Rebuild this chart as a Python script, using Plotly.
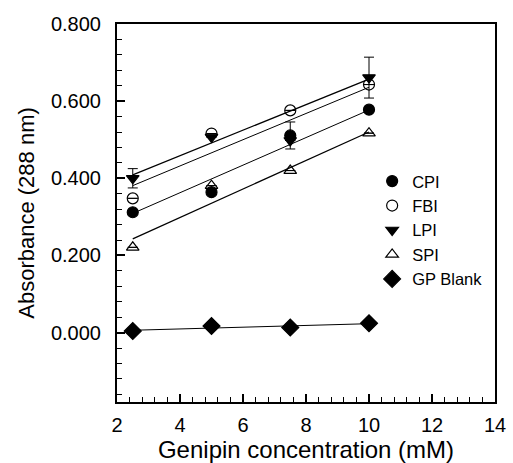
import plotly.graph_objects as go

conc = [2.5, 5, 7.5, 10]
series_names = ["CPI", "FBI", "LPI", "SPI", "GP Blank"]
cpi = [0.312, 0.364, 0.511, 0.578]
fbi = [0.348, 0.516, 0.576, 0.643]
lpi = [0.400, 0.507, 0.498, 0.661]
spi = [0.221, 0.381, 0.420, 0.517]
gp_blank = [0.004, 0.017, 0.013, 0.024]
cpi_err = [0, 0, 0.035, 0]
fbi_err = [0, 0, 0, 0]
lpi_err = [0.025, 0, 0, 0.053]
spi_err = [0, 0, 0, 0]
gp_err = [0, 0, 0, 0]
# regression lines: value at x=2.5 and x=10
fit_x = [2.5, 10]
cpi_fit = [0.309, 0.577]
fbi_fit = [0.381, 0.636]
lpi_fit = [0.409, 0.657]
spi_fit = [0.243, 0.520]
gp_fit = [0.006, 0.023]

values = [cpi, fbi, lpi, spi, gp_blank]
errors = [cpi_err, fbi_err, lpi_err, spi_err, gp_err]
fits = [cpi_fit, fbi_fit, lpi_fit, spi_fit, gp_fit]
symbols = ["circle", "circle-open", "triangle-down", "triangle-up-open", "diamond"]
sizes = [11, 11, 11, 11, 13]
fit_widths = [1.0, 1.0, 1.3, 1.3, 1.0]

fig = go.Figure()
for name, yv, fv, w in zip(series_names, values, fits, fit_widths):
    fig.add_trace(go.Scatter(x=fit_x, y=fv, mode="lines", line=dict(color="black", width=w),
                             showlegend=False, hoverinfo="skip"))
for name, yv, ev, sym, sz in zip(series_names, values, errors, symbols, sizes):
    fig.add_trace(go.Scatter(
        x=conc, y=yv, mode="markers", name=name,
        marker=dict(symbol=sym, size=sz, color="black", line=dict(color="black", width=1.2)),
        error_y=dict(type="data", array=ev, visible=True, color="black", thickness=1, width=5),
    ))

font_family = "Liberation Sans, Arial, sans-serif"
axis_font = dict(family=font_family, size=20, color="black")
fig.update_layout(
    width=513, height=463,
    margin=dict(l=117, r=18, t=24, b=61),
    paper_bgcolor="white", plot_bgcolor="white",
    font=dict(family=font_family, color="black"),
    legend=dict(x=0.675, y=0.63, xanchor="left", yanchor="top", bgcolor="rgba(0,0,0,0)",
                font=dict(size=16.5, color="black"), tracegroupgap=0, itemsizing="trace"),
    xaxis=dict(range=[2, 14], dtick=2, tick0=2, showgrid=False, zeroline=False, automargin=False,
               showline=True, linecolor="black", linewidth=2, mirror=True,
               ticks="inside", ticklen=8, tickwidth=1.5, tickcolor="black",
               minor=dict(dtick=0.4, ticks="inside", ticklen=5, tickwidth=1.2, tickcolor="black"),
               tickfont=axis_font, ticklabelstandoff=4,
               title=dict(text="Genipin concentration (mM)", font=dict(size=24, color="black"), standoff=4)),
    yaxis=dict(range=[-0.18, 0.8], dtick=0.2, tick0=0, tickformat=".3f", showgrid=False, zeroline=False,
               automargin=False,
               showline=True, linecolor="black", linewidth=2, mirror=True,
               ticks="inside", ticklen=8, tickwidth=1.5, tickcolor="black",
               minor=dict(dtick=0.04, ticks="inside", ticklen=5, tickwidth=1.2, tickcolor="black"),
               tickfont=axis_font, ticklabelstandoff=10,
               title=dict(text="Absorbance (288 nm)", font=dict(size=22, color="black"), standoff=10)),
)
fig.write_html("out.html", config={"displayModeBar": False},
               post_script="document.body.style.margin='0';")
